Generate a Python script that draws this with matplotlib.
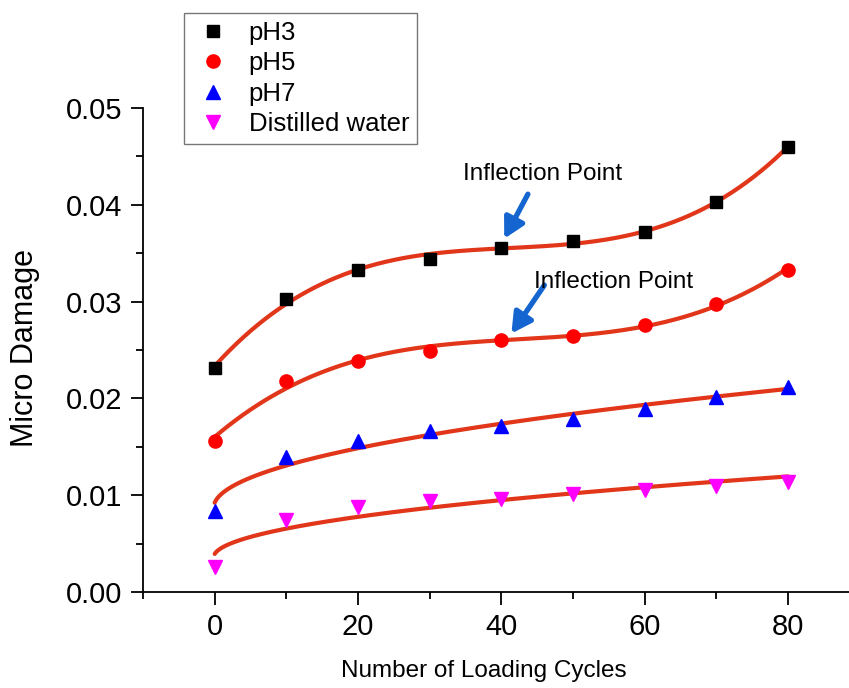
import numpy as np
import matplotlib
matplotlib.use("Agg")
import matplotlib.pyplot as plt
from matplotlib.ticker import MultipleLocator, FormatStrFormatter

plt.rcParams['font.family'] = ['Liberation Sans', 'DejaVu Sans']

cycles = [0, 10, 20, 30, 40, 50, 60, 70, 80]
ph3 = [0.0231, 0.0303, 0.0333, 0.0344, 0.0355, 0.0363, 0.0372, 0.0403, 0.0460]
ph5 = [0.01565, 0.0218, 0.0239, 0.0249, 0.0260, 0.0264, 0.0276, 0.0298, 0.0333]
ph7 = [0.0084, 0.0139, 0.0156, 0.0166, 0.0171, 0.0179, 0.0189, 0.0201, 0.0212]
water = [0.0026, 0.0074, 0.0088, 0.0094, 0.0096, 0.0101, 0.0105, 0.0110, 0.0114]
labels = ["pH3", "pH5", "pH7", "Distilled water"]

x = np.array(cycles, float)
xf = np.linspace(0, 80, 400)

def cubic(y):
    return np.polyval(np.polyfit(x, y, 3), xf)

def root_fit(y, shift=0.15):
    coef = np.polyfit(np.sqrt(x + shift), y, 1)
    return np.polyval(coef, np.sqrt(xf + shift))

fig = plt.figure(figsize=(8.49, 6.88), dpi=100)
ax = fig.add_axes([143/849, 96/688, 1 - 143/849, (592-108)/688])

fit_color = '#E2361A'
for y, fit in [(ph3, cubic), (ph5, cubic), (ph7, root_fit), (water, root_fit)]:
    ax.plot(xf, fit(y), color=fit_color, lw=3.0, zorder=2, solid_capstyle='round')

h1, = ax.plot(x, ph3, 's', color='black', ms=8.5, ls='none', zorder=3)
h2, = ax.plot(x, ph5, 'o', color='#FF0000', ms=9.5, ls='none', zorder=3)
h3, = ax.plot(x, ph7, '^', color='#0000FF', ms=10, ls='none', zorder=3)
h4, = ax.plot(x, water, 'v', color='#FF00FF', ms=10, ls='none', zorder=3)

ax.set_xlim(-10, 88.5)
ax.set_ylim(0, 0.05)
ax.spines['top'].set_visible(False)
ax.spines['right'].set_visible(False)
for s in ['left', 'bottom']:
    ax.spines[s].set_linewidth(1.3)
ax.xaxis.set_major_locator(MultipleLocator(20))
ax.xaxis.set_minor_locator(MultipleLocator(10))
ax.yaxis.set_major_locator(MultipleLocator(0.01))
ax.yaxis.set_minor_locator(MultipleLocator(0.005))
ax.yaxis.set_major_formatter(FormatStrFormatter('%.2f'))
ax.tick_params(which='major', direction='out', length=9, width=1.3, labelsize=21, pad=6)
ax.tick_params(which='minor', direction='out', length=5, width=1.3)

ax.set_xlabel("Number of Loading Cycles", fontsize=17.5)
ax.xaxis.set_label_coords((484-143)/706, -(660-592)/484, transform=ax.transAxes)
ax.set_ylabel("Micro Damage", fontsize=22)
ax.yaxis.set_label_coords(-(143-40)/706, (592-348)/484, transform=ax.transAxes)

arrow_color = '#1565D0'
aprops = dict(arrowstyle='-|>,head_length=1.2,head_width=0.65', color=arrow_color, lw=3.8,
              shrinkA=0, shrinkB=0)
ax.annotate("", xy=(40.4, 0.0365), xytext=(43.7, 0.0411), arrowprops=aprops)
ax.text(45.8, 0.0432, "Inflection Point", fontsize=17.5, ha='center', va='center')
ax.annotate("", xy=(41.4, 0.0267), xytext=(46.0, 0.0317), arrowprops=aprops)
ax.text(55.6, 0.0320, "Inflection Point", fontsize=17.5, ha='center', va='center')

leg = fig.legend([h1, h2, h3, h4], labels, loc='upper left',
                 bbox_to_anchor=(184/849, 1 - 13/688), bbox_transform=fig.transFigure,
                 borderaxespad=0, fontsize=18.5, frameon=True, fancybox=False,
                 handletextpad=0.6, labelspacing=0.24, borderpad=0.32, handlelength=1.6)
leg.get_frame().set_edgecolor('#555555')
leg.get_frame().set_linewidth(1.0)

fig.savefig("out.png", dpi=100)
